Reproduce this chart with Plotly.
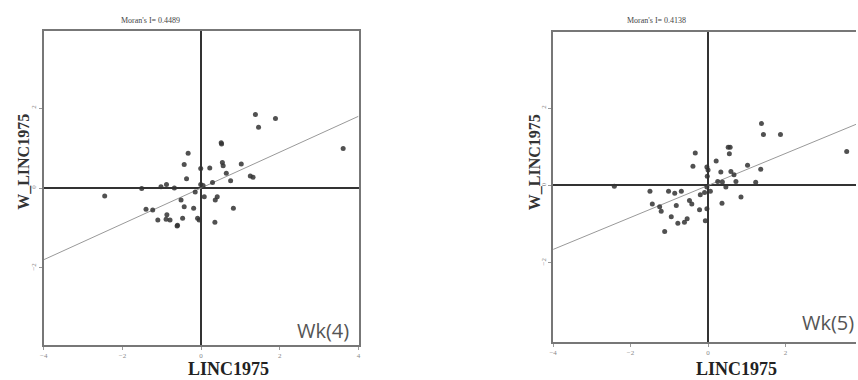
import plotly.graph_objects as go

W, H = 858, 380

# ---- data ----
x_wk4 = [1.38, 1.89, 1.46, 3.61, 0.51, 0.52, -0.33, -0.43, -0.01, 0.22, 0.54, 0.56, 1.02, 0.64,
         0.75, 1.25, 1.32, -0.37, 0.29, -0.01, 0.05, -0.88, -1.02, -0.68, -1.51, -2.45, -0.15,
         0.08, 0.41, 0.36, -0.51, -0.43, -0.19, 0.82, -1.40, -1.23, -0.87, -1.10, -0.89, -0.79,
         -0.47, -0.09, -0.05, 0.35, -0.60, -0.61]
y_wk4 = [1.84, 1.74, 1.52, 0.99, 1.13, 1.10, 0.87, 0.59, 0.49, 0.50, 0.64, 0.56, 0.60, 0.37,
         0.18, 0.30, 0.27, 0.23, 0.14, 0.09, 0.06, 0.09, 0.03, 0.00, -0.01, -0.20, -0.10,
         -0.22, -0.22, -0.30, -0.30, -0.47, -0.51, -0.51, -0.53, -0.55, -0.67, -0.80, -0.78, -0.80,
         -0.76, -0.76, -0.80, -0.86, -0.93, -0.95]

x_wk5 = [1.38, 1.43, 1.87, 3.58, 0.52, 0.57, 0.55, -0.33, -0.39, 0.21, -0.03, 0.00, -0.02, 0.33,
         0.59, 0.67, 1.02, 1.36, 0.72, 1.23, 0.25, 0.37, 0.46, -0.03, 0.06, -0.09, -2.42, -1.50,
         -1.02, -0.86, -0.69, -0.20, 0.85, -1.44, -1.25, -1.21, -0.82, -0.48, -0.42, 0.36, -0.22,
         -0.03, -0.95, -0.78, -0.61, -0.54, -0.07, -1.12]
y_wk5 = [1.60, 1.32, 1.32, 0.88, 0.99, 0.99, 0.82, 0.84, 0.50, 0.63, 0.48, 0.40, 0.24, 0.35,
         0.36, 0.28, 0.52, 0.42, 0.10, 0.08, 0.10, 0.09, -0.04, -0.04, -0.15, -0.18, -0.02, -0.15,
         -0.15, -0.20, -0.15, -0.24, -0.30, -0.48, -0.55, -0.67, -0.52, -0.39, -0.48, -0.46, -0.63,
         -0.60, -0.81, -0.98, -0.95, -0.86, -0.91, -1.19]

moran_i = [0.4489, 0.4138]
panel_labels = ["Wk(4)", "Wk(5)"]
x_title = "LINC1975"
y_title = "W_LINC1975"
x_ticks = [-4, -2, 0, 2, 4]
y_ticks = [-2, 0, 2]

# ---- layout geometry (pixels) ----
panels = [
    dict(x0=40, x1=357, y0=31, y1=345, xr=[-4, 4], yr=[-3.93, 3.93], mirror_y=True),
    dict(x0=553, x1=858, y0=32, y1=342, xr=[-4, 3.82], yr=[-4.05, 3.97], mirror_y=False),
]

def fx(px):
    return px / W

def fy(py):
    return 1 - py / H

fig = go.Figure()
layout = dict(width=W, height=H, margin=dict(l=0, r=0, t=0, b=0),
              paper_bgcolor="white", plot_bgcolor="white", showlegend=False)
annotations = []

datasets = [(x_wk4, y_wk4), (x_wk5, y_wk5)]
for i, (p, (xs, ys)) in enumerate(zip(panels, datasets)):
    sfx = "" if i == 0 else str(i + 1)
    xa, ya = "x" + sfx, "y" + sfx
    axis_line = dict(showline=True, linecolor="#777", linewidth=1.5, showgrid=False,
                     zeroline=True, zerolinecolor="#333", zerolinewidth=1.5,
                     ticks="outside", ticklen=3, tickcolor="#999",
                     tickfont=dict(family="Liberation Serif", size=7, color="#888"))
    layout["xaxis" + sfx] = dict(axis_line, domain=[fx(p["x0"]), fx(p["x1"])], range=p["xr"],
                                 anchor=ya, tickvals=x_ticks, mirror=True)
    layout["yaxis" + sfx] = dict(axis_line, domain=[fy(p["y1"]), fy(p["y0"])], range=p["yr"],
                                 anchor=xa, tickvals=y_ticks, tickangle=-90,
                                 mirror=p["mirror_y"])
    layout["yaxis" + sfx]["zerolinewidth"] = 2

    # regression line
    lx = [-4, 4]
    ly = [moran_i[i] * v for v in lx]
    fig.add_trace(go.Scatter(x=lx, y=ly, mode="lines", xaxis=xa, yaxis=ya,
                             line=dict(color="#999", width=1), cliponaxis=True))
    fig.add_trace(go.Scatter(x=xs, y=ys, mode="markers", xaxis=xa, yaxis=ya,
                             marker=dict(size=5, color="#333", opacity=0.85)))

    # Moran's I title
    annotations.append(dict(text=f"Moran's I= {moran_i[i]:.4f}", xref="paper", yref="paper",
                            x=fx(p["x0"] + (108 if i == 0 else 104)), y=fy(21),
                            xanchor="center", yanchor="middle", showarrow=False,
                            font=dict(family="Liberation Serif", size=8, color="#444")))
    # x title
    annotations.append(dict(text=f"<b>{x_title}</b>", xref="paper", yref="paper",
                            x=fx(p["x0"] + (186 if i == 0 else 185)), y=0,
                            xanchor="center", yanchor="bottom", showarrow=False, borderpad=0,
                            font=dict(family="Liberation Serif", size=18, color="#222")))
    # y title
    annotations.append(dict(text=f"<b>{y_title}</b>", xref="paper", yref="paper",
                            x=fx(p["x0"] - 21 if i == 0 else p["x0"] - 19), y=fy(162),
                            xanchor="center", yanchor="middle", showarrow=False, textangle=-90,
                            font=dict(family="Liberation Serif", size=16, color="#333")))
    # panel label
    if i == 0:
        annotations.append(dict(text=panel_labels[i], xref="paper", yref="paper",
                                x=fx(349), y=fy(330), xanchor="right", yanchor="middle",
                                showarrow=False,
                                font=dict(family="Open Sans", size=20, color="#555")))
    else:
        annotations.append(dict(text=panel_labels[i], xref="paper", yref="paper",
                                x=fx(802), y=fy(322), xanchor="left", yanchor="middle",
                                showarrow=False,
                                font=dict(family="Open Sans", size=20, color="#555")))

layout["annotations"] = annotations
fig.update_layout(**layout)
fig.write_html("out.html")
